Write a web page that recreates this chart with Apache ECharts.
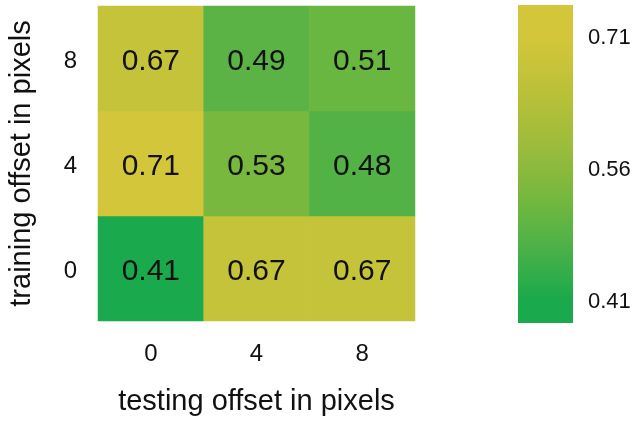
<!DOCTYPE html>
<html>
<head>
<meta charset="utf-8">
<script src="https://cdn.jsdelivr.net/npm/echarts@6/dist/echarts.min.js"></script>
<style>
  html, body { margin: 0; padding: 0; background: #fff; }
  #chart { width: 636px; height: 421px; }
</style>
</head>
<body>
<div id="chart"></div>
<script>
// Offsets (pixels) used in testing (columns) and training (rows)
const testOffsets = ['0', '4', '8'];
const trainOffsets = ['0', '4', '8'];
// Accuracy per [trainRow][testCol], rows listed from offset 0 upward
const accuracy = [
  [0.41, 0.67, 0.67],
  [0.71, 0.53, 0.48],
  [0.67, 0.49, 0.51]
];
// Colour bar range and its tick labels
const barMin = 0.384;
const barMax = 0.745;
const barTicks = [0.41, 0.56, 0.71];
// Colour scale
const colorMin = 0.41;
const colorMax = 0.71;
const palette = ['#1aa94c', '#4cb148', '#78b83e', '#9fbc3c', '#bcc138', '#d4c63a'];

const cells = [];
accuracy.forEach((row, r) => row.forEach((v, c) => cells.push([c, r, v])));

const FONT = '"Liberation Sans", Arial, sans-serif';

// Gradient stops for the colour bar, mapped from the bar range onto the palette
function paletteAt(v) {
  const t = Math.min(1, Math.max(0, (v - colorMin) / (colorMax - colorMin)));
  const pos = t * (palette.length - 1);
  const i = Math.min(palette.length - 2, Math.floor(pos));
  const f = pos - i;
  const a = echarts.color.parse(palette[i]);
  const b = echarts.color.parse(palette[i + 1]);
  return 'rgb(' + [0, 1, 2].map(k => Math.round(a[k] + (b[k] - a[k]) * f)).join(',') + ')';
}
const stops = [];
for (let k = 0; k <= 40; k++) {
  const v = barMax - (barMax - barMin) * k / 40;
  stops.push({ offset: k / 40, color: paletteAt(v) });
}

const chart = echarts.init(document.getElementById('chart'));
const barGrid = { left: 518, top: 5, width: 55, height: 318 };
const shifted = { t: { padding: [6, 0, 0, 0] } };
chart.setOption({
  animation: false,
  textStyle: { fontFamily: FONT },
  grid: [
    { left: 98, top: 6, width: 317, height: 317 },
    barGrid
  ],
  xAxis: [
    {
      type: 'category', data: testOffsets, gridIndex: 0,
      axisLine: { show: false }, axisTick: { show: false }, splitLine: { show: false },
      axisLabel: { fontSize: 24, color: '#111', margin: 21, fontFamily: FONT },
      name: 'testing offset in pixels', nameLocation: 'middle', nameGap: 66,
      nameTextStyle: { fontSize: 29, color: '#111', fontFamily: FONT }
    },
    { type: 'value', gridIndex: 1, show: false, min: 0, max: 1 }
  ],
  yAxis: [
    {
      type: 'category', data: trainOffsets, gridIndex: 0,
      axisLine: { show: false }, axisTick: { show: false }, splitLine: { show: false },
      axisLabel: {
        fontSize: 24, color: '#111', margin: 21, fontFamily: FONT,
        formatter: v => '{t|' + v + '}', rich: shifted
      },
      name: 'training offset in pixels', nameLocation: 'middle', nameGap: 62,
      nameTextStyle: { fontSize: 29, color: '#111', fontFamily: FONT }
    },
    {
      type: 'value', gridIndex: 1, position: 'right', min: barMin, max: barMax,
      axisLine: { show: false }, splitLine: { show: false },
      axisTick: { show: false },
      axisLabel: {
        customValues: barTicks, fontSize: 22, color: '#111', margin: 15, fontFamily: FONT,
        formatter: v => '{b|' + v.toFixed(2) + '}',
        rich: { b: { padding: [4, 0, 0, 0] } }
      }
    }
  ],
  visualMap: {
    show: false, type: 'continuous', seriesIndex: 0,
    min: colorMin, max: colorMax, inRange: { color: palette }
  },
  graphic: [{
    type: 'rect', z: 0,
    shape: { x: barGrid.left, y: barGrid.top, width: barGrid.width, height: barGrid.height },
    style: { fill: new echarts.graphic.LinearGradient(0, 0, 0, 1, stops) }
  }],
  series: [{
    type: 'heatmap', xAxisIndex: 0, yAxisIndex: 0, data: cells,
    label: {
      show: true, fontSize: 30, color: '#111', fontFamily: FONT,
      offset: [0, 3],
      formatter: p => p.value[2].toFixed(2)
    },
    itemStyle: { borderWidth: 0 },
    emphasis: { disabled: true }
  }]
});
</script>
</body>
</html>
